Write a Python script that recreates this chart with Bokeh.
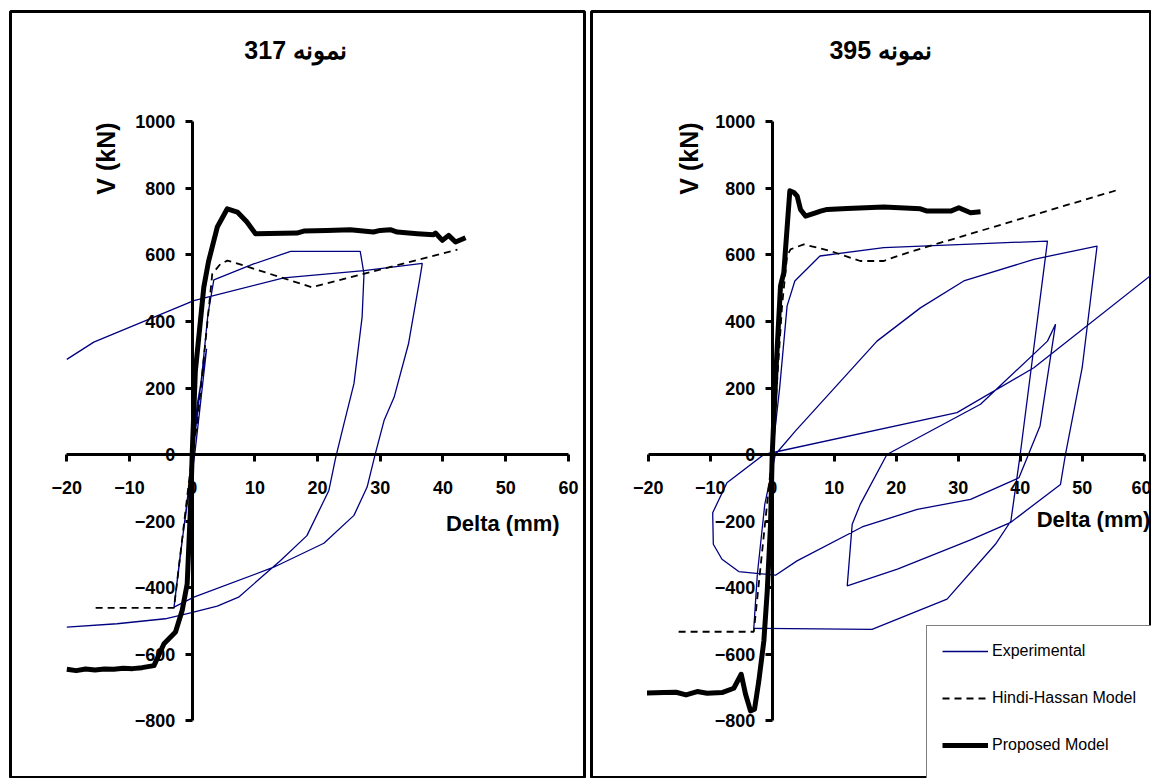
from bokeh.plotting import figure
from bokeh.models import FixedTicker, Label, Legend, LegendItem, LinearAxis, Range1d
from bokeh.layouts import row
from bokeh.embed import file_html
from bokeh.resources import INLINE

NaN = float("nan")

# ---------------- data ----------------
x_ticks = [-20, -10, 0, 10, 20, 30, 40, 50, 60]
v_ticks = [-800, -600, -400, -200, 0, 200, 400, 600, 800, 1000]

titles = ["نمونه 317", "نمونه 395"]
x_label = "Delta (mm)"
y_label = "V (kN)"
series_names = ["Experimental", "Hindi-Hassan Model", "Proposed Model"]

# Specimen 317
exp317_x = [0, 0.8, 2.3, 1.3, 0.4, -0.8, -1.9, -2.9, -1.2, 0.4, 1.6, 2.5, 3.45, 9.8, 15.7, 26.8,
            27.4, 27.1, 25.8, 24.2, 22.9, 21.8, 18.3, 14.1, 7.4, 4.0, -0.27, -4.3, -12.0, -20.0,
            NaN, -20.0, -15.7, 0.27, 14.6, 27.4, 36.7, 36.3, 34.5, 32.2, 30.6, 29.2, 27.9, 25.8,
            21.0, 13.0, 0.27, -2.9]
exp317_v = [0, 150, 318, 150, 0, -150, -300, -459, -200, 50, 250, 420, 525, 573, 611, 611,
            543, 413, 213, 92, -8, -108, -244, -319, -429, -456, -476, -494, -509, -519,
            NaN, 286, 338, 463, 531, 553, 575, 528, 333, 172, 102, 2, -98, -183,
            -267, -339, -429, -459]

hh317_x = [-15.4, -2.9, 0, 0.8, 2.4, 3.2, 4.5, 5.6, 6.6, 19.1, 42.3]
hh317_v = [-461, -461, 0, 92, 393, 543, 573, 583, 578, 503, 616]

pm317_x = [-20.0, -18.5, -17.0, -15.5, -14.0, -12.5, -11.0, -9.5, -8.0, -6.1, -4.5, -2.66, -1.6,
           -0.8, -0.27, 0, 0.5, 1.85, 2.6, 4.0, 5.6, 7.2, 8.7, 10.1, 16.7, 17.8, 21.5, 25.2,
           28.9, 30.0, 31.6, 32.7, 35.9, 38.5, 38.8, 39.9, 40.9, 42.0, 43.6]
pm317_v = [-646, -650, -645, -648, -645, -646, -643, -644, -641, -635, -569, -534, -469,
           -389, -158, 0, 250, 503, 580, 684, 739, 729, 700, 664, 666, 672, 674, 676,
           669, 674, 676, 669, 664, 661, 666, 644, 659, 639, 652]

# Specimen 395
exp395_x = [0, 1.2, 2.4, 3.65, 7.7, 18.0, 31.0, 44.4, 40.0, 38.5, 36.0, 28.2, 16.1, -2.97,
            -2.4, -1.2, 0.5, 3.76, 16.9, 23.9, 30.9, 42.2, 52.4, 50.0, 47.3, 46.5, 38.4, 32.0,
            20.2, 12.1, 12.9, 14.2, 18.5, 33.6, 44.4, 45.7, 43.2, 39.8, 32.0, 23.4, 14.5, 4.0,
            0.53, -5.4, -8.1, -9.5, -9.6, -7.3, -1.35, 29.8, 42.2, 61.5]
exp395_v = [0, 200, 447, 522, 597, 622, 632, 642, 0, -200, -270, -435, -526, -523,
            -360, -150, 0, 71, 341, 441, 522, 587, 627, 261, 0, -90, -205, -257,
            -345, -395, -210, -150, 0, 151, 341, 392, 86, -70, -135, -165, -218, -320,
            -363, -352, -315, -270, -175, -85, 0, 126, 261, 545]

hh395_x = [-15.1, -2.97, 0, 1.6, 2.4, 2.95, 5.1, 9.4, 14.2, 18.0, 20.2, 24.5, 55.6]
hh395_v = [-533, -533, 0, 450, 597, 617, 632, 612, 582, 582, 597, 622, 795]

pm395_x = [-20.2, -17.5, -15.5, -13.9, -12.1, -10.5, -8.1, -6.2, -5.0, -4.3, -3.5, -2.85,
           -2.16, -1.35, -0.8, -0.27, 0, 0.6, 1.34, 1.87, 2.84, 3.5, 4.03, 4.56, 5.37, 6.98,
           7.8, 8.87, 12.1, 18.0, 23.9, 25.0, 28.8, 30.1, 32.0, 33.6]
pm395_v = [-717, -716, -715, -723, -713, -718, -716, -703, -661, -721, -771, -766,
           -681, -561, -410, -210, 0, 250, 507, 547, 793, 788, 777, 737, 717, 727,
           732, 737, 740, 744, 739, 732, 732, 742, 727, 730]

# ---------------- styling ----------------
FONT = "Liberation Sans"
NAVY = "#000080"
V_RANGE = (-974.4, 1332.3)


def make_panel(title, title_x, xlab_x, xlab_v, ylab_x, width, mbl, mbr, xr,
               exp_x, exp_v, hh_x, hh_v, pm_x, pm_v, with_legend):
    p = figure(width=width, height=778, x_range=Range1d(*xr), y_range=Range1d(*V_RANGE),
               output_backend="svg", toolbar_location=None,
               x_axis_location=None, y_axis_location=None,
               min_border_left=mbl, min_border_right=mbr, min_border_top=11,
               min_border_bottom=0)
    for g in p.grid:
        g.visible = False
    p.outline_line_color = "black"
    p.outline_line_width = 3
    p.background_fill_color = "white"
    p.border_fill_color = "white"

    for axis, loc, bounds, ticks in ((LinearAxis(), "below", (-20, 60), x_ticks),
                                     (LinearAxis(), "left", (-800, 1000), v_ticks)):
        axis.fixed_location = 0
        axis.bounds = bounds
        axis.ticker = FixedTicker(ticks=ticks)
        axis.axis_line_width = 3
        axis.axis_line_color = "black"
        axis.major_tick_line_width = 3
        axis.major_tick_out = 7
        axis.major_tick_in = 0
        axis.minor_tick_line_color = None
        axis.major_label_text_font = FONT
        axis.major_label_text_font_style = "bold"
        axis.major_label_text_font_size = "18px"
        axis.major_label_text_color = "black"
        axis.major_label_standoff = 19 if loc == "below" else 10
        p.add_layout(axis, loc)

    r_exp = p.line(exp_x, exp_v, line_color=NAVY, line_width=1.3)
    r_hh = p.line(hh_x, hh_v, line_color="black", line_width=1.8, line_dash="7 5")
    r_pm = p.line(pm_x, pm_v, line_color="black", line_width=5, line_join="round")

    p.add_layout(Label(x=title_x, y=1216, text=title, text_align="center",
                       text_baseline="middle", text_font=FONT, text_font_style="bold",
                       text_font_size="25px", text_color="black"))
    p.add_layout(Label(x=xlab_x, y=xlab_v, text=x_label, text_align="right",
                       text_baseline="middle", text_font=FONT, text_font_style="bold",
                       text_font_size="22px", text_color="black"))
    p.add_layout(Label(x=ylab_x, y=890, text=y_label, angle=90, angle_units="deg",
                       text_align="center", text_baseline="middle", text_font=FONT,
                       text_font_style="bold", text_font_size="25px", text_color="black"))

    if with_legend:
        r_pad = p.line([], [], line_alpha=0)
        legend = Legend(items=[LegendItem(label=series_names[0], renderers=[r_exp]),
                               LegendItem(label=series_names[1], renderers=[r_hh]),
                               LegendItem(label=series_names[2], renderers=[r_pm]),
                               LegendItem(label=" ", renderers=[r_pad])],
                        location=(335, -40), orientation="vertical",
                        glyph_width=46, glyph_height=20, label_height=20,
                        label_width=230,
                        label_standoff=4, spacing=27, padding=15, margin=0,
                        label_text_font=FONT, label_text_font_size="16px",
                        label_text_color="black",
                        border_line_color="black", border_line_width=1,
                        background_fill_color="white", background_fill_alpha=1)
        p.add_layout(legend)
    return p


p1 = make_panel(titles[0], 16.5, 58.6, -207, -13.7, 588, 10, 4, (-28.98, 62.57),
                exp317_x, exp317_v, hh317_x, hh317_v, pm317_x, pm317_v, False)
p2 = make_panel(titles[1], 17.5, 61.0, -196, -13.5, 563, 3, 0, (-29.15, 61.18),
                exp395_x, exp395_v, hh395_x, hh395_v, pm395_x, pm395_v, True)

layout = row(p1, p2, spacing=0)
open("out.html", "w").write(file_html(layout, INLINE))
